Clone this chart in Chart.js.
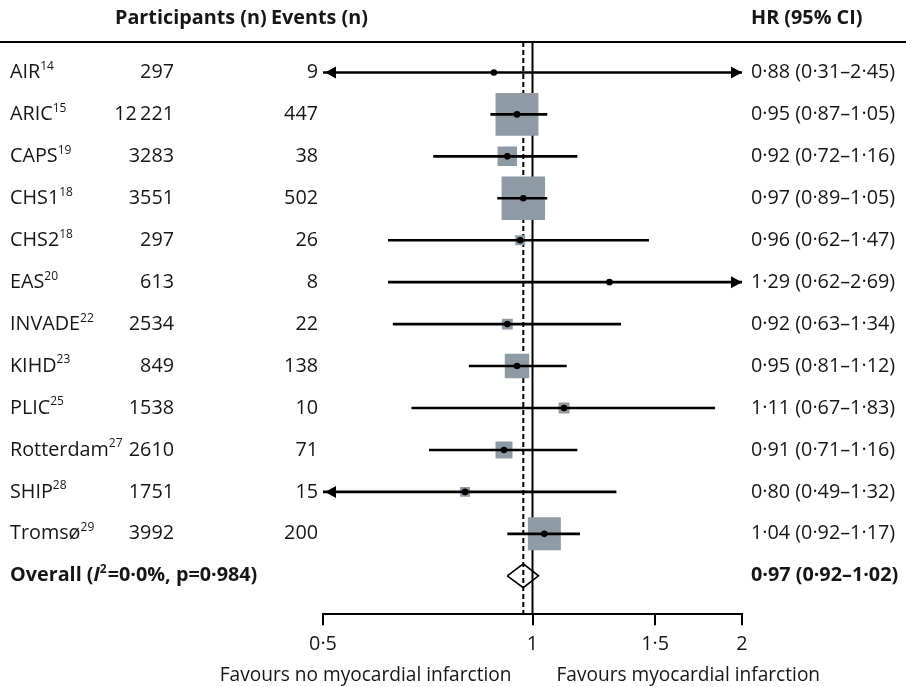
<!DOCTYPE html>
<html><head><meta charset="utf-8">
<script src="https://cdn.jsdelivr.net/npm/chart.js@4.4.0/dist/chart.umd.min.js"></script>
<style>html,body{margin:0;padding:0;background:#fff}#wrap{width:906px;height:687px}</style>
</head><body><div id="wrap"><canvas id="c" width="906" height="687"></canvas></div>
<script>
// ---- data ----
const studies = ['AIR','ARIC','CAPS','CHS1','CHS2','EAS','INVADE','KIHD','PLIC','Rotterdam','SHIP','Tromsø'];
const refNums = ['14','15','19','18','18','20','22','23','25','27','28','29'];
const participants = ['297','12\u2009221','3283','3551','297','613','2534','849','1538','2610','1751','3992'];
const events = ['9','447','38','502','26','8','22','138','10','71','15','200'];
const hr = [0.88,0.95,0.92,0.97,0.96,1.29,0.92,0.95,1.11,0.91,0.80,1.04];
const lo = [0.31,0.87,0.72,0.89,0.62,0.62,0.63,0.81,0.67,0.71,0.49,0.92];
const hi = [2.45,1.05,1.16,1.05,1.47,2.69,1.34,1.12,1.83,1.16,1.32,1.17];
const weights = [0.24,28.1,5.8,28.8,1.5,0.24,1.8,9.1,1.8,4.4,1.5,16.6];
const overall = {hr:0.97, lo:0.92, hi:1.02, i2:'0·0%', p:'0·984'};
const xTicks = [0.5,1,1.5,2];
const axisMin = 0.5, axisMax = 2;
const favours = ['Favours no myocardial infarction','Favours myocardial infarction'];

// ---- styling ----
const FONT = '"Open Sans"';
const FS = 19.8;
const TXT = '#161616';
const SQUARE = '#8e9ba4';
const yMin = -0.726, yMax = 12.917;
const overallRow = studies.length;
const dot = v => v.toFixed(2).replace('.', '·');
const hrLabel = (h,l,u) => `${dot(h)} (${dot(l)}–${dot(u)})`;
const sideFor = w => Math.max(4, Math.sqrt(w) * 8.1);

const clampLo = lo.map(v => Math.max(v, axisMin));
const clampHi = hi.map(v => Math.min(v, axisMax));
const ciData = [];
studies.forEach((s,i) => {
  ciData.push({x:clampLo[i], y:i}, {x:clampHi[i], y:i}, {x:clampHi[i], y:null});
});
const dh = 0.285;
const diamond = [
  {x:overall.lo, y:overallRow}, {x:overall.hr, y:overallRow-dh},
  {x:overall.hi, y:overallRow}, {x:overall.hr, y:overallRow+dh},
  {x:overall.lo, y:overallRow}
];

const textPlugin = {
  id: 'forestText',
  beforeDraw(chart) {
    const c = chart.ctx;
    c.save(); c.fillStyle = '#fff'; c.fillRect(0,0,chart.width,chart.height); c.restore();
  },
  afterDraw(chart) {
    const c = chart.ctx;
    const xs = chart.scales.x, ys = chart.scales.y;
    c.save();
    c.strokeStyle = '#000'; c.lineWidth = 2;
    c.beginPath(); c.moveTo(0, 42); c.lineTo(chart.width, 42); c.stroke();
    c.fillStyle = TXT; c.textBaseline = 'middle';
    c.font = `bold ${FS}px ${FONT}`;
    c.textAlign = 'left';
    c.fillText('Participants (n)', 115, 18);
    c.fillText('Events (n)', 271, 18);
    c.fillText('HR (95% CI)', 751, 18);
    studies.forEach((s,i) => {
      const y = ys.getPixelForValue(i);
      c.font = `${FS}px ${FONT}`;
      c.textAlign = 'left';
      c.fillText(s, 10, y);
      const w = c.measureText(s).width;
      c.font = `12px ${FONT}`;
      c.fillText(refNums[i], 10 + w, y - 6);
      c.font = `${FS}px ${FONT}`;
      c.textAlign = 'right';
      c.fillText(participants[i], 174, y);
      c.fillText(events[i], 318, y);
      c.textAlign = 'left';
      c.fillText(hrLabel(hr[i], lo[i], hi[i]), 751, y);
      c.fillStyle = '#000';
      if (lo[i] < axisMin) {
        const ax = xs.getPixelForValue(axisMin) + 2;
        c.beginPath(); c.moveTo(ax, y); c.lineTo(ax+11, y-6); c.lineTo(ax+11, y+6); c.closePath(); c.fill();
      }
      if (hi[i] > axisMax) {
        const ax = xs.getPixelForValue(axisMax);
        c.beginPath(); c.moveTo(ax, y); c.lineTo(ax-11, y-6); c.lineTo(ax-11, y+6); c.closePath(); c.fill();
      }
      c.fillStyle = TXT;
    });
    const yo = ys.getPixelForValue(overallRow);
    let x = 10;
    c.textAlign = 'left';
    const parts = [
      [`bold ${FS}px ${FONT}`, 'Overall (', 0],
      [`italic bold ${FS}px ${FONT}`, 'I', 0],
      [`bold 12px ${FONT}`, '2', -6],
      [`bold ${FS}px ${FONT}`, `=${overall.i2}, p=${overall.p})`, 0]
    ];
    parts.forEach(([f,t,dy]) => { c.font = f; c.fillText(t, x, yo + dy); x += c.measureText(t).width + (dy ? 1 : 0); });
    c.font = `bold ${FS}px ${FONT}`;
    c.fillText(hrLabel(overall.hr, overall.lo, overall.hi), 751, yo);
    const x1 = xs.getPixelForValue(1);
    c.font = `19.1px ${FONT}`;
    c.textAlign = 'right'; c.fillText(favours[0], x1 - 21, 676);
    c.textAlign = 'left'; c.fillText(favours[1], x1 + 24, 676);
    c.restore();
  }
};

new Chart(document.getElementById('c'), {
  type: 'scatter',
  data: {
    datasets: [
      { type:'line', order:5, data:[{x:1,y:yMin},{x:1,y:yMax}], borderColor:'#000', borderWidth:2, pointRadius:0, fill:false },
      { type:'line', order:5, data:[{x:overall.hr,y:yMin},{x:overall.hr,y:yMax}], borderColor:'#000', borderWidth:2, borderDash:[5,3], pointRadius:0, fill:false },
      { type:'scatter', order:4, data: hr.map((v,i)=>({x:v,y:i})), pointStyle:'rect',
        pointRadius: ctx => sideFor(weights[ctx.dataIndex]) / Math.SQRT2, backgroundColor:SQUARE, borderWidth:0 },
      { type:'line', order:3, data: ciData, borderColor:'#000', borderWidth:2.6, pointRadius:0, spanGaps:false, fill:false },
      { type:'scatter', order:2, data: hr.map((v,i)=>({x:v,y:i})), pointStyle:'circle', pointRadius:3.3, backgroundColor:'#000', borderWidth:0 },
      { type:'line', order:1, data: diamond, borderColor:'#000', borderWidth:1.6, pointRadius:0, fill:false, tension:0 }
    ]
  },
  options: {
    responsive:false, animation:false, events:[],
    layout:{ padding:{ left:323, right:164, top:42, bottom:24 } },
    plugins:{ legend:{display:false}, tooltip:{enabled:false} },
    scales:{
      x:{ type:'logarithmic', min:axisMin, max:axisMax,
        afterBuildTicks: s => { s.ticks = xTicks.map(v=>({value:v})); },
        ticks:{ callback: v => String(v).replace('.', '·'), font:{family:'Open Sans',size:FS}, color:TXT, padding:7, maxRotation:0, autoSkip:false },
        grid:{ drawOnChartArea:false, drawTicks:true, tickLength:11, color:'#000', lineWidth:2 },
        border:{ display:true, color:'#000', width:2 }
      },
      y:{ type:'linear', reverse:true, min:yMin, max:yMax, display:false }
    }
  },
  plugins:[textPlugin]
});
</script></body></html>
